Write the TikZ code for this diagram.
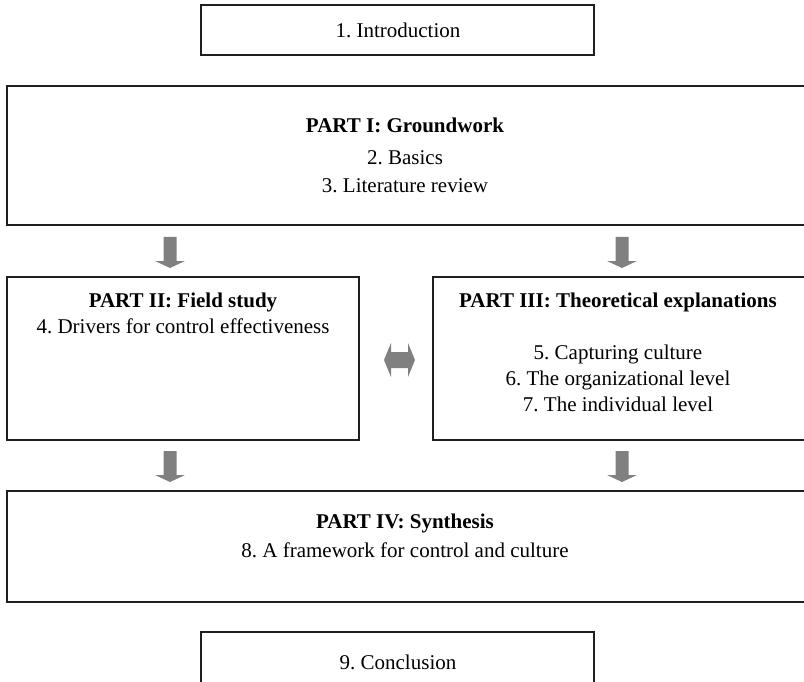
\documentclass[tikz,border=0pt]{standalone}
\usepackage{fontspec}
\setmainfont{Liberation Serif}
\frenchspacing
\begin{document}
\begin{tikzpicture}[x=1pt,y=-1pt,
  boxline/.style={draw=black!88,line width=1.8pt},
  garrow/.style={fill=black!50,draw=none},
  txt/.style={font=\fontsize{21}{24}\selectfont,inner sep=0pt,anchor=base},
  btxt/.style={font=\fontsize{21}{24}\bfseries\selectfont,inner sep=0pt,anchor=base}]
\useasboundingbox (0,0) rectangle (804,682);
\clip (0,0) rectangle (804,682);
% boxes
\draw[boxline] (201,5) rectangle (594,55);
\draw[boxline] (7,86) rectangle (820,225);
\draw[boxline] (7,277) rectangle (359,440);
\draw[boxline] (433,277) rectangle (820,440);
\draw[boxline] (7,491) rectangle (820,602);
\draw[boxline] (201,632) rectangle (594,700);
% texts
\node[txt] (t1) at (398,38) {1. Introduction};
\node[btxt] (p1) at (405,133) {PART I: Groundwork};
\node[txt] (p1a) at (405,165) {2. Basics};
\node[txt] (p1b) at (405,193) {3. Literature review};
\node[btxt] (p2) at (183,307) {PART II: Field study};
\node[txt] (p2a) at (183,333) {4. Drivers for control effectiveness};
\node[btxt] (p3) at (618,307) {PART III: Theoretical explanations};
\node[txt] (p3a) at (618,359) {5. Capturing culture};
\node[txt] (p3b) at (618,385) {6. The organizational level};
\node[txt] (p3c) at (618,411) {7. The individual level};
\node[btxt] (p4) at (405,528) {PART IV: Synthesis};
\node[txt] (p4a) at (405,557) {8. A framework for control and culture};
\node[txt] (t9) at (398,669) {9. Conclusion};
% arrows down
\foreach \cx/\ty in {170/237, 622/237, 170/451, 622/451}{
  \fill[garrow] (\cx-6.5,\ty) -- (\cx+6.5,\ty) -- (\cx+6.5,\ty+24) -- (\cx+15,\ty+24)
     -- (\cx,\ty+31) -- (\cx-15,\ty+24) -- (\cx-6.5,\ty+24) -- cycle;
}
% double arrow
\fill[garrow] (384,360) -- (391,343) -- (391,352) -- (408,352) -- (408,343) -- (415,360)
  -- (408,377) -- (408,368) -- (391,368) -- (391,377) -- cycle;
\end{tikzpicture}
\end{document}
